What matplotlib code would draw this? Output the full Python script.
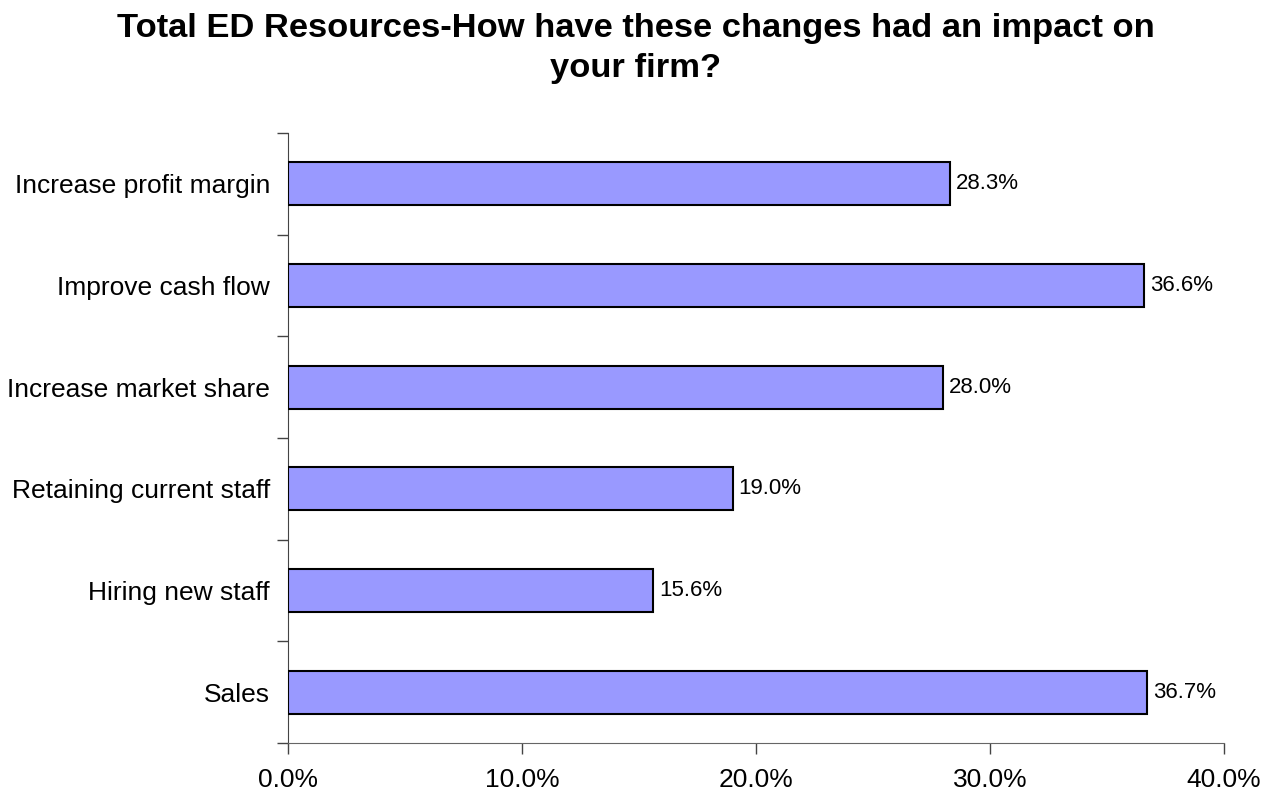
import matplotlib
matplotlib.use("Agg")
import matplotlib.pyplot as plt
from matplotlib.ticker import FuncFormatter, MultipleLocator, FixedLocator

plt.rcParams['font.family'] = ['Liberation Sans', 'DejaVu Sans']

categories = ["Sales", "Hiring new staff", "Retaining current staff",
              "Increase market share", "Improve cash flow", "Increase profit margin"]
values = [36.7, 15.6, 19.0, 28.0, 36.6, 28.3]
title_lines = ["Total ED Resources-How have these changes had an impact on", "your firm?"]

W, H = 1271, 795
fig = plt.figure(figsize=(W / 100, H / 100), dpi=100)
ax = fig.add_axes([288/W, 1-743/H, (1224-288)/W, (743-133)/H])

ypos = list(range(len(categories)))
ax.barh(ypos, values, height=0.42, color="#9999FF", edgecolor="black", linewidth=1.5, zorder=3)
for y, v in zip(ypos, values):
    ax.text(v + 0.25, y, f"{v:.1f}%", va="center", ha="left", fontsize=16)

ax.set_xlim(0, 40)
ax.set_ylim(-0.5, len(categories) - 0.5)
ax.xaxis.set_major_locator(MultipleLocator(10))
ax.xaxis.set_major_formatter(FuncFormatter(lambda x, p: f"{x:.1f}%"))
ax.set_yticks(ypos)
ax.set_yticklabels(categories, fontsize=19)
ax.yaxis.set_minor_locator(FixedLocator([i - 0.5 for i in range(len(categories) + 1)]))
ax.tick_params(axis="y", which="major", length=0, pad=13)
ax.tick_params(axis="y", which="minor", length=8, width=1, color="#444444", direction="out")
ax.tick_params(axis="x", which="major", length=8, width=1, color="#444444", direction="out",
               labelsize=19, pad=10)

for s in ["top", "right"]:
    ax.spines[s].set_visible(False)
ax.spines["left"].set_color("#444444")
ax.spines["bottom"].set_color("#666666")

for line, base in zip(title_lines, [37, 77]):
    fig.text(0.5, 1 - base / H, line, ha="center", va="baseline", fontsize=24.8,
             fontweight="bold")

fig.savefig("out.png", dpi=100, facecolor="white")
